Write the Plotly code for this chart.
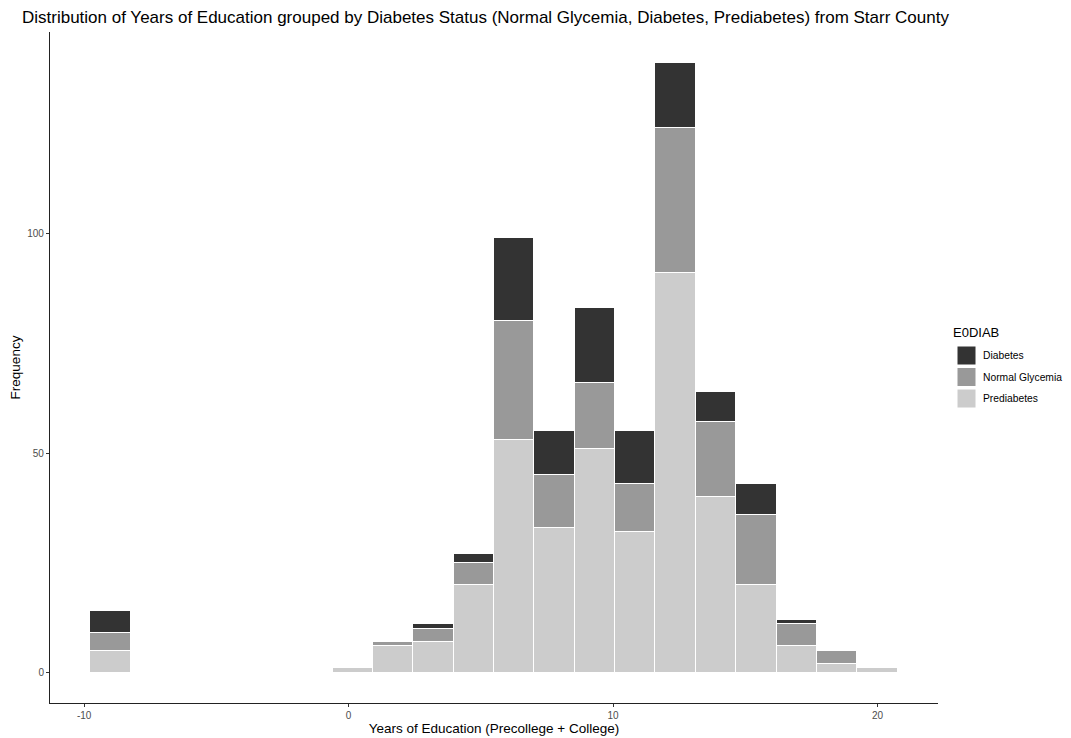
import plotly.graph_objects as go

# Histogram bins (ggplot-style: 20 bins spanning -9 .. 20)
bin_first_center = -9
bin_last_center = 20
n_bins = 20

# Stacked counts per bin, from left to right
prediabetes = [5, 0, 0, 0, 0, 0, 1, 6, 7, 20, 53, 33, 51, 32, 91, 40, 20, 6, 2, 1]
normal_glycemia = [4, 0, 0, 0, 0, 0, 0, 1, 3, 5, 27, 12, 15, 11, 33, 17, 16, 5, 3, 0]
diabetes = [5, 0, 0, 0, 0, 0, 0, 0, 1, 2, 19, 10, 17, 12, 15, 7, 7, 1, 0, 0]

x_ticks = [-10, 0, 10, 20]
y_ticks = [0, 50, 100]

legend_names = ["Diabetes", "Normal Glycemia", "Prediabetes"]
legend_colors = ["#333333", "#999999", "#cccccc"]

binwidth = (bin_last_center - bin_first_center) / (n_bins - 1)
centers = [bin_first_center + i * binwidth for i in range(n_bins)]

FONT = "Liberation Sans, Arial, Helvetica, sans-serif"
OFF = 8  # default page body margin
W, H = 1071 - OFF, 738 - OFF
L, R, T, B = 50 - OFF, 133, 32 - OFF, 35
PW, PH = W - L - R, H - T - B


def px_x(p):
    # reference page pixel -> paper fraction
    return (p - OFF - L) / PW


def px_y(p):
    return (H - B - (p - OFF)) / PH


fig = go.Figure()
series = [
    ("Prediabetes", prediabetes, "#cccccc"),
    ("Normal Glycemia", normal_glycemia, "#999999"),
    ("Diabetes", diabetes, "#333333"),
]
for name, vals, col in series:
    fig.add_trace(go.Bar(
        x=centers, y=vals, width=binwidth, name=name, showlegend=False,
        marker=dict(color=col, line=dict(color="white", width=1.2)),
    ))

total = [a + b + c for a, b, c in zip(prediabetes, normal_glycemia, diabetes)]
ymax = max(total)
lo = bin_first_center - binwidth / 2
hi = bin_last_center + binwidth / 2
xpad = (hi - lo) * 0.05

# Manual legend (ggplot-style large keys)
shapes = []
annotations = [dict(
    text="E0DIAB", x=px_x(951), y=px_y(332), xref="paper", yref="paper",
    xanchor="left", yanchor="middle", showarrow=False,
    font=dict(size=13, color="black", family=FONT),
)]
key_top = 346
pitch = 21.5
for i, (nm, col) in enumerate(zip(legend_names, legend_colors)):
    y0 = key_top + i * pitch
    shapes.append(dict(
        type="rect", xref="paper", yref="paper",
        x0=px_x(957), x1=px_x(976), y0=px_y(y0 + 19), y1=px_y(y0),
        fillcolor=col, line=dict(color="white", width=1),
    ))
    annotations.append(dict(
        text=nm, x=px_x(981), y=px_y(y0 + 9.8), xref="paper", yref="paper",
        xanchor="left", yanchor="middle", showarrow=False,
        font=dict(size=10.3, color="black", family=FONT),
    ))

fig.update_layout(
    barmode="stack", bargap=0,
    width=W, height=H,
    paper_bgcolor="white", plot_bgcolor="white",
    margin=dict(l=L, r=R, t=T, b=B, autoexpand=False),
    font=dict(family=FONT, color="black"),
    title=dict(
        text="Distribution of Years of Education grouped by Diabetes Status (Normal Glycemia, Diabetes, Prediabetes) from Starr County",
        x=(22 - OFF) / W, xref="container", xanchor="left",
        y=1 - (17 - OFF) / H, yref="container", yanchor="middle",
        font=dict(size=17, color="black", family=FONT),
    ),
    shapes=shapes,
    annotations=annotations,
    showlegend=False,
)
fig.update_xaxes(
    range=[lo - xpad, hi + xpad], automargin=False,
    tickvals=x_ticks, ticktext=[str(t) for t in x_ticks],
    showgrid=False, zeroline=False,
    showline=True, linecolor="#222222", linewidth=1.1,
    ticks="outside", ticklen=3, tickcolor="#333333", tickwidth=1,
    tickfont=dict(size=10, color="#4d4d4d"),
    title=dict(text="Years of Education (Precollege + College)", font=dict(size=13.5, color="black"), standoff=3),
)
fig.update_yaxes(
    range=[-ymax * 0.05, ymax * 1.05], automargin=False,
    tickvals=y_ticks, ticktext=[str(t) for t in y_ticks],
    showgrid=False, zeroline=False,
    showline=True, linecolor="#222222", linewidth=1.1,
    ticks="outside", ticklen=3, tickcolor="#333333", tickwidth=1,
    tickfont=dict(size=10, color="#4d4d4d"),
    title=dict(text="Frequency", font=dict(size=13.5, color="black"), standoff=4),
)

fig.write_html("out.html")
